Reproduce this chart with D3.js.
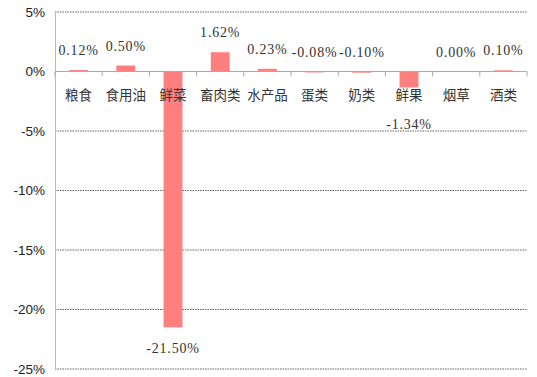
<!DOCTYPE html>
<html><head><meta charset="utf-8">
<script src="https://cdn.jsdelivr.net/npm/d3@7"></script>
<style>body{margin:0;background:#fff;}</style>
</head><body>
<svg id="c" width="537" height="377"></svg>
<script>
const categories = ["粮食","食用油","鲜菜","畜肉类","水产品","蛋类","奶类","鲜果","烟草","酒类"];
const values = [0.12, 0.50, -21.50, 1.62, 0.23, -0.08, -0.10, -1.34, 0.00, 0.10];
const yTicks = [5, 0, -5, -10, -15, -20, -25];

const svg = d3.select("#c");
const L = 55, R = 527, T = 12, B = 369;
const x = d3.scaleBand().domain(categories).range([L, R]).paddingInner(0.6).paddingOuter(0.3);
const xb = d3.scaleBand().domain(categories).range([L, R]);
const y = d3.scaleLinear().domain([-25, 5]).range([B, T]);

// gridlines
svg.append("g").selectAll("line").data(yTicks.filter(d => d !== 0)).join("line")
  .attr("x1", L).attr("x2", R).attr("y1", d => y(d)).attr("y2", d => y(d))
  .attr("stroke", "#666").attr("stroke-width", 1).attr("stroke-dasharray", "1.5,1");

// y axis
const ya = svg.append("g").attr("transform", `translate(${L},0)`)
  .call(d3.axisLeft(y).tickValues(yTicks).tickSize(0).tickPadding(10).tickFormat(d => d + "%"));
ya.select(".domain").attr("stroke", "#bbb");
ya.selectAll("text").attr("font-family", "Liberation Sans, Arial, sans-serif").attr("font-size", "13.5px").attr("fill", "#222");

// bars
svg.append("g").selectAll("rect").data(values).join("rect")
  .attr("x", (d, i) => x(categories[i]))
  .attr("width", x.bandwidth())
  .attr("y", d => y(Math.max(d, 0)))
  .attr("height", d => Math.abs(y(d) - y(0)))
  .attr("fill", "#FF7F7F");

// x axis line at 0 with ticks between categories
const xg = svg.append("g");
xg.append("line").attr("x1", L).attr("x2", R).attr("y1", y(0)).attr("y2", y(0)).attr("stroke", "#aaa");
const bounds = categories.map(c => xb(c)).concat([R]);
xg.selectAll("line.t").data(bounds).join("line").attr("class", "t")
  .attr("x1", d => d).attr("x2", d => d).attr("y1", y(0)).attr("y2", y(0) + 5).attr("stroke", "#aaa");

// category labels
svg.append("g").selectAll("text").data(categories).join("text")
  .attr("x", d => xb(d) + xb.bandwidth() / 2).attr("y", y(0) + 28)
  .attr("text-anchor", "middle")
  .attr("font-family", "Noto Sans CJK SC, sans-serif").attr("font-size", "13.5px").attr("fill", "#333")
  .text(d => d);

// value labels
svg.append("g").selectAll("text").data(values).join("text")
  .attr("x", (d, i) => xb(categories[i]) + xb.bandwidth() / 2)
  .attr("y", d => d > -0.5 ? y(Math.max(d, 0)) - 15 : Math.max(y(d) + 26, y(0) + 57))
  .attr("text-anchor", "middle")
  .attr("font-family", "Liberation Serif, serif").attr("font-size", "14px").attr("letter-spacing", "0.8px").attr("fill", "#333")
  .text(d => d.toFixed(2) + "%");
</script>
</body></html>
